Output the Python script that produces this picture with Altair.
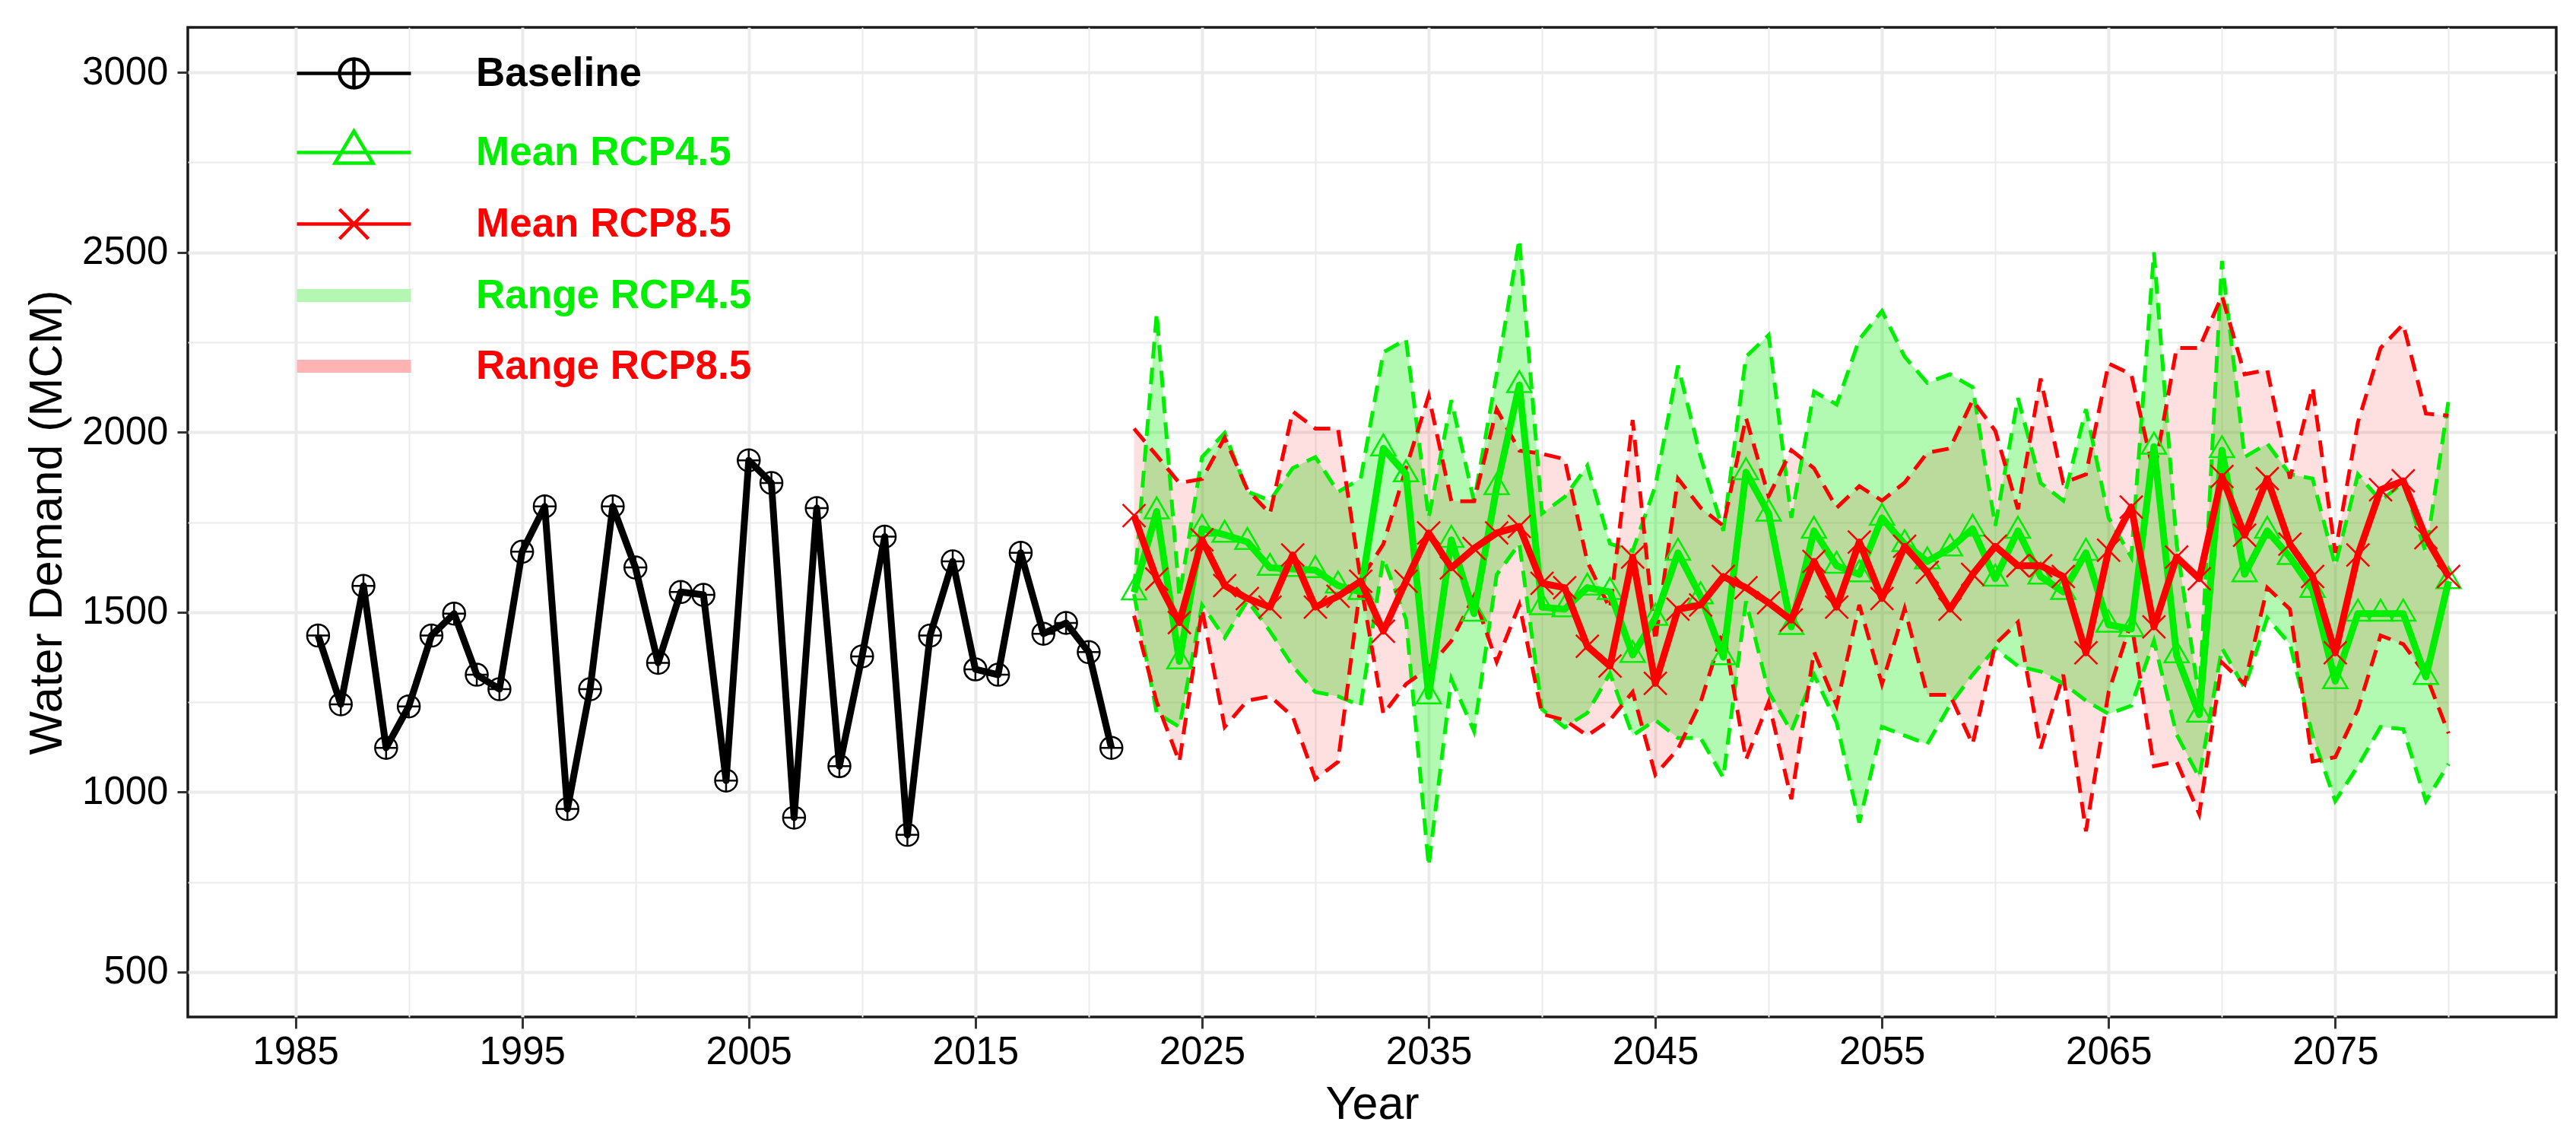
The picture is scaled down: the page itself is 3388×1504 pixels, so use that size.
import altair as alt
import pandas as pd

# ---------------- data ----------------
base_years = list(range(1986, 2022))
baseline = [1435, 1244, 1573, 1123, 1238, 1435, 1496, 1326, 1286, 1668,
            1794, 953, 1286, 1794, 1624, 1359, 1556, 1548, 1032, 1922,
            1859, 929, 1789, 1072, 1377, 1710, 881, 1435, 1641, 1341,
            1326, 1665, 1440, 1470, 1389, 1123]

fut_years = list(range(2022, 2081))
mean45 = [1555, 1780, 1363, 1732, 1715, 1695, 1623, 1620, 1617, 1574,
          1556, 1955, 1883, 1266, 1701, 1496, 1847, 2131, 1514, 1508,
          1568, 1556, 1381, 1484, 1665, 1544, 1375, 1889, 1774, 1459,
          1726, 1629, 1605, 1762, 1689, 1641, 1677, 1732, 1593, 1726,
          1599, 1556, 1665, 1465, 1453, 1960, 1380, 1215, 1950, 1605,
          1726, 1653, 1562, 1308, 1496, 1496, 1496, 1320, 1586]
mean85 = [1768, 1592, 1471, 1701, 1574, 1538, 1514, 1659, 1514, 1544,
          1586, 1447, 1586, 1720, 1623, 1677, 1720, 1738, 1580, 1568,
          1405, 1350, 1653, 1302, 1508, 1520, 1599, 1568, 1526, 1478,
          1641, 1514, 1695, 1538, 1683, 1611, 1508, 1605, 1683, 1629,
          1629, 1599, 1387, 1672, 1792, 1459, 1653, 1593, 1877, 1714,
          1871, 1689, 1599, 1387, 1659, 1840, 1865, 1707, 1599]
max45 = [1560, 2331, 1544, 1931, 1998, 1835, 1810, 1900, 1931, 1834,
         1871, 2222, 2258, 1762, 2089, 1808, 2161, 2536, 1774, 1820,
         1907, 1690, 1670, 1850, 2185, 1931, 1726, 2210, 2270, 1762,
         2113, 2077, 2258, 2337, 2210, 2137, 2161, 2125, 1740, 2095,
         1859, 1810, 2064, 1762, 1653, 2500, 1690, 1260, 2476, 1931,
         1968, 1883, 1871, 1629, 1883, 1810, 1859, 1665, 2089]
min45 = [1550, 1220, 1181, 1520, 1429, 1532, 1447, 1350, 1278, 1266,
         1240, 1650, 1480, 794, 1314, 1169, 1604, 1690, 1230, 1180,
         1220, 1330, 1157, 1200, 1150, 1150, 1040, 1530, 1278, 1169,
         1326, 1193, 915, 1181, 1157, 1133, 1242, 1326, 1399, 1350,
         1335, 1302, 1254, 1217, 1240, 1420, 1160, 1040, 1400, 1290,
         1484, 1411, 1157, 975, 1072, 1181, 1175, 975, 1078]
max85 = [2010, 1935, 1859, 1870, 1985, 1840, 1774, 2058, 2010, 2010,
         1590, 1689, 1900, 2101, 1808, 1808, 2064, 1949, 1940, 1925,
         1640, 1510, 2034, 1420, 1871, 1790, 1740, 2040, 1822, 1950,
         1900, 1790, 1850, 1810, 1860, 1943, 1955, 2089, 2004, 1786,
         2149, 1859, 1883, 2191, 2161, 1883, 2234, 2234, 2379, 2161,
         2173, 1871, 2125, 1665, 2028, 2234, 2300, 2052, 2046]
min85 = [1490, 1250, 1084, 1508, 1181, 1254, 1266, 1210, 1036, 1084,
         1580, 1217, 1300, 1345, 1420, 1544, 1362, 1520, 1217, 1200,
         1157, 1200, 1278, 1048, 1120, 1250, 1450, 1090, 1250, 980,
         1390, 1240, 1520, 1300, 1510, 1270, 1270, 1133, 1411, 1472,
         1121, 1326, 891, 1278, 1472, 1072, 1085, 939, 1360, 1300,
         1568, 1508, 1085, 1097, 1230, 1435, 1411, 1326, 1163]

series_names = ["Baseline", "Mean RCP4.5", "Mean RCP8.5", "Range RCP4.5", "Range RCP8.5"]
x_ticks = list(range(1985, 2085, 5))
y_ticks = list(range(500, 3001, 250))

base_df = pd.DataFrame({"year": base_years, "value": baseline})
fut_df = pd.DataFrame({"year": fut_years, "mean45": mean45, "mean85": mean85,
                       "max45": max45, "min45": min45, "max85": max85, "min85": min85})
legend_df = pd.DataFrame({"series": series_names})

# ---------------- style ----------------
GREEN = "#00EE00"
RED = "#FF0000"
FONT = "Liberation Sans"

CIRCLE_PLUS = "M-1,0A1,1,0,1,1,1,0A1,1,0,1,1,-1,0ZM-1,0L1,0M0,-1L0,1"
TRIANGLE = "M0,-1.155L1,0.577L-1,0.577Z"
XMARK = "M-1,-1L1,1M-1,1L1,-1"

# legend symbols: unit = 25 px (symbolSize 2500); line spans 150 px
LEG_BASE = ("M-3,0L3,0M-0.76,0A0.76,0.76,0,1,1,0.76,0A0.76,0.76,0,1,1,-0.76,0Z"
            "M0,-0.76L0,0.76")
LEG_TRI = "M-3,0L3,0M0,-1.12L1,0.56L-1,0.56Z"
LEG_X = "M-3,0L3,0M-0.76,-0.78L0.76,0.78M-0.76,0.78L0.76,-0.78"
LEG_BAND = "".join(f"M-3,{v:.3f}L3,{v:.3f}" for v in [-0.25, -0.125, 0, 0.125, 0.25])

x_scale = alt.Scale(domain=[1980.25, 2084.75], nice=False, zero=False)
y_scale = alt.Scale(domain=[375, 3125], nice=False, zero=False)

x_axis = alt.Axis(
    values=x_ticks, format="d", title="Year",
    labelExpr="datum.value % 10 == 5 ? datum.label : ''",
    grid=True, gridColor="#EBEBEB",
    gridWidth={"condition": {"test": "datum.value % 10 == 5", "value": 4}, "value": 2},
    tickOpacity={"condition": {"test": "datum.value % 10 == 5", "value": 1}, "value": 0},
    tickColor="#333333", tickWidth=3, tickSize=15, domain=False,
    labelFont=FONT, labelFontSize=51, labelColor="black", labelPadding=6,
    labelOverlap=False, labelFlush=False,
    titleFont=FONT, titleFontSize=61, titleFontWeight="normal", titleColor="black",
    titlePadding=14,
)
y_axis = alt.Axis(
    values=y_ticks, format="d", title="Water Demand (MCM)",
    labelExpr="datum.value % 500 == 0 ? datum.label : ''",
    grid=True, gridColor="#EBEBEB",
    gridWidth={"condition": {"test": "datum.value % 500 == 0", "value": 4}, "value": 2},
    tickOpacity={"condition": {"test": "datum.value % 500 == 0", "value": 1}, "value": 0},
    tickColor="#333333", tickWidth=3, tickSize=14, domain=False,
    labelFont=FONT, labelFontSize=51, labelColor="black", labelPadding=12,
    labelOverlap=False, labelFlush=False,
    titleFont=FONT, titleFontSize=61, titleFontWeight="normal", titleColor="black",
    titlePadding=14,
)


def X():
    return alt.X("year:Q", scale=x_scale, axis=x_axis)


def Y(field):
    return alt.Y(f"{field}:Q", scale=y_scale, axis=y_axis)


fut = alt.Chart(fut_df)
base = alt.Chart(base_df)

area45 = fut.mark_area(color=GREEN, opacity=0.3).encode(x=X(), y=Y("min45"), y2="max45:Q")
area85 = fut.mark_area(color=RED, opacity=0.12).encode(x=X(), y=Y("min85"), y2="max85:Q")

dash = dict(strokeDash=[22, 12], strokeWidth=5)
d_min45 = fut.mark_line(color=GREEN, **dash).encode(x=X(), y=Y("min45"))
d_max45 = fut.mark_line(color=GREEN, **dash).encode(x=X(), y=Y("max45"))
d_min85 = fut.mark_line(color=RED, **dash).encode(x=X(), y=Y("min85"))
d_max85 = fut.mark_line(color=RED, **dash).encode(x=X(), y=Y("max85"))

l45 = fut.mark_line(color=GREEN, strokeWidth=9, strokeJoin="round").encode(x=X(), y=Y("mean45"))
p45 = fut.mark_point(shape=TRIANGLE, size=1024, filled=False, color=GREEN,
                     strokeWidth=2.5, opacity=1).encode(x=X(), y=Y("mean45"))
l85 = fut.mark_line(color=RED, strokeWidth=9, strokeJoin="round").encode(x=X(), y=Y("mean85"))
p85 = fut.mark_point(shape=XMARK, size=900, filled=False, color=RED,
                     strokeWidth=2.5, opacity=1).encode(x=X(), y=Y("mean85"))
lb = base.mark_line(color="black", strokeWidth=9, strokeJoin="round").encode(x=X(), y=Y("value"))
pb = base.mark_point(shape=CIRCLE_PLUS, size=841, filled=False, color="black",
                     strokeWidth=2.5, opacity=1).encode(x=X(), y=Y("value"))

legend = alt.Legend(
    title=None, orient="none", legendX=191, legendY=33, direction="vertical",
    labelFont=FONT, labelFontSize=53, labelFontWeight="bold", labelLimit=0,
    labelColor={"expr": "datum.label == 'Baseline' ? 'black' : (indexof(datum.label, '4.5') >= 0 ? '#00EE00' : '#FF0000')"},
    symbolSize=2500, symbolStrokeWidth=4.5, labelOffset=133, rowPadding=38, padding=0,
)
leg = alt.Chart(legend_df).mark_point(filled=False, opacity=1).encode(
    color=alt.Color("series:N",
                    scale=alt.Scale(domain=series_names,
                                    range=["black", GREEN, RED, "#B3F7B3", "#FFB3B3"]),
                    legend=legend),
    shape=alt.Shape("series:N",
                    scale=alt.Scale(domain=series_names,
                                    range=[LEG_BASE, LEG_TRI, LEG_X, LEG_BAND, LEG_BAND]),
                    legend=legend),
).transform_filter("false")

chart = alt.layer(
    area45, area85, d_min45, d_max45, d_min85, d_max85,
    l45, p45, l85, p85, lb, pb, leg
).properties(
    width=3115, height=1301,
    autosize=alt.AutoSizeParams(type="none"),
    padding={"left": 239, "top": 28, "right": 16, "bottom": 150},
    background="white",
).configure_view(stroke="#1A1A1A", strokeWidth=3.5)

chart.save("out.html", embed_options={"renderer": "svg", "actions": False})
